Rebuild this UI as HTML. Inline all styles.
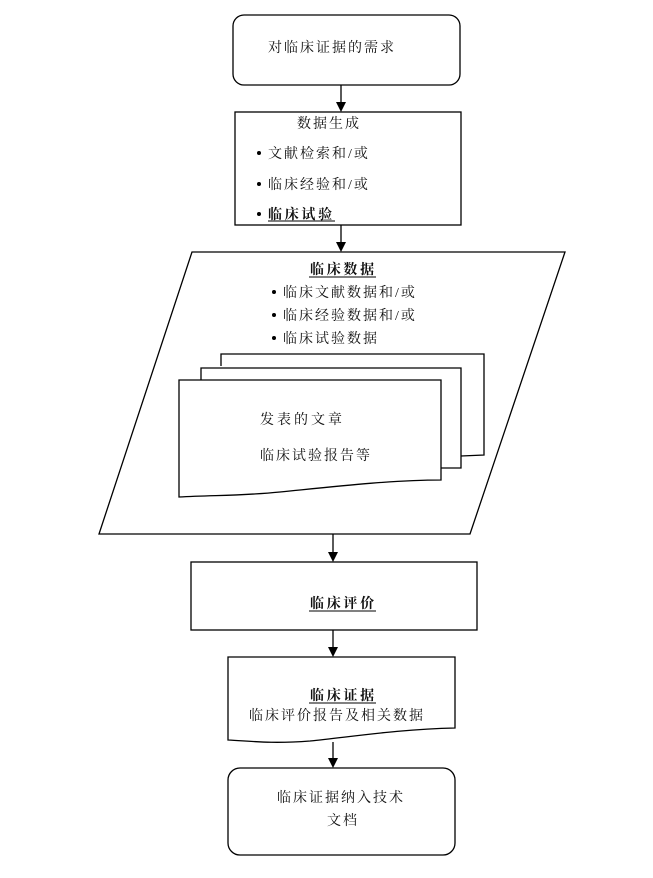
<!DOCTYPE html>
<html><head><meta charset="utf-8"><style>
html,body{margin:0;padding:0;background:#fff;}
svg text{font-family:"Liberation Serif","Noto Serif CJK SC","Noto Sans CJK SC",serif;font-size:14px;fill:#111;letter-spacing:2px;}
.b{font-weight:bold;letter-spacing:2.7px !important;}
</style></head><body>
<svg width="653" height="873" viewBox="0 0 653 873" xmlns="http://www.w3.org/2000/svg">
<g fill="none" stroke="#000" stroke-width="1.3">
<rect x="233" y="15" width="227" height="70" rx="11"/>
<line x1="341" y1="85" x2="341" y2="104"/>
<rect x="235" y="112" width="226" height="113"/>
<line x1="341" y1="225" x2="341" y2="244"/>
<path d="M192,252 L565,252 L470,534 L99,534 Z"/>
<path d="M221,366 L221,354 L484,354 L484,455 L461,456"/>
<path d="M201,380 L201,368 L461,368 L461,468 L441,468"/>
<path d="M179,380 L441,380 L441,480 C390,480 330,487 280,492 C240,496 215,495 179,497 Z" fill="#fff"/>
<line x1="333" y1="534" x2="333" y2="554"/>
<rect x="191" y="562" width="286" height="68"/>
<line x1="333" y1="630" x2="333" y2="649"/>
<path d="M228,657 L455,657 L455,728 C400,729 350,737 310,741 C270,744 250,741 228,740 Z"/>
<line x1="333" y1="742" x2="333" y2="760"/>
<rect x="228" y="768" width="227" height="87" rx="12"/>
</g>
<g fill="#000">
<path d="M336,102 L346,102 L341,112Z"/>
<path d="M336,242 L346,242 L341,252Z"/>
<path d="M328,552 L338,552 L333,562Z"/>
<path d="M328,647 L338,647 L333,657Z"/>
<path d="M328,758 L338,758 L333,768Z"/>
</g>
<text x="268" y="52">对临床证据的需求</text>
<text x="297" y="128">数据生成</text>
<circle cx="259" cy="153" r="2"/><text x="268" y="158">文献检索和/或</text>
<circle cx="259" cy="184" r="2"/><text x="268" y="189">临床经验和/或</text>
<circle cx="259" cy="214" r="2"/><text x="268" y="219" class="b">临床试验</text>
<line x1="268" y1="221" x2="335" y2="221" stroke="#000"/>
<text x="310" y="274" class="b">临床数据</text>
<line x1="309" y1="277" x2="376" y2="277" stroke="#000"/>
<circle cx="274" cy="292" r="2"/><text x="283" y="297">临床文献数据和/或</text>
<circle cx="274" cy="315" r="2"/><text x="283" y="320">临床经验数据和/或</text>
<circle cx="274" cy="338" r="2"/><text x="283" y="343">临床试验数据</text>
<text x="260" y="424" style="letter-spacing:3px">发表的文章</text>
<text x="260" y="460">临床试验报告等</text>
<text x="310" y="608" class="b">临床评价</text>
<line x1="309" y1="611" x2="376" y2="611" stroke="#000"/>
<text x="310" y="700" class="b">临床证据</text>
<line x1="309" y1="703" x2="376" y2="703" stroke="#000"/>
<text x="249" y="720">临床评价报告及相关数据</text>
<text x="277" y="802">临床证据纳入技术</text>
<text x="327" y="825">文档</text>
</svg>
</body></html>
